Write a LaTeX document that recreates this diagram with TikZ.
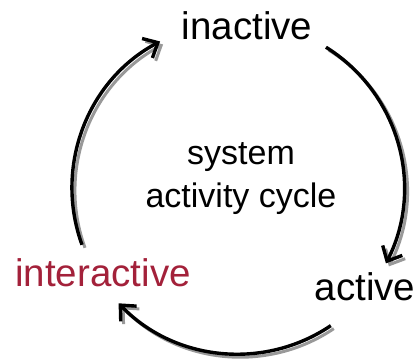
\documentclass[tikz,border=0pt]{standalone}
\usepackage{fontspec}
\setmainfont{Liberation Sans}
\usepackage{tikz}
\usetikzlibrary{arrows.meta,calc}

\definecolor{interred}{RGB}{163,33,58}

\begin{document}
\begin{tikzpicture}[x=1pt, y=1pt,
			statenode/.style={anchor=base, inner sep=0pt, font=\fontsize{38.5}{46}\selectfont},
			cyclenode/.style={anchor=base, inner sep=0pt, align=center, font=\fontsize{34}{43}\selectfont},
			cyclearc/.style={draw=black, line width=3.4pt, -{Straight Barb[length=12pt, width=22pt, line width=3.4pt]}},
			shadowarc/.style={draw=black!40, line width=3pt, -{Straight Barb[length=12pt, width=22pt, line width=3pt]}},
			]
			\useasboundingbox (0,0) rectangle (419,360);
			%Nodes
			\node[statenode] (inactive) at (247,321) {inactive};
			\node[statenode] (active) at (365,60) {active};
			\node[statenode, text=interred] (interactive) at (103,74) {interactive};
			\node[cyclenode] (cycle) at (241,153) {system\\activity cycle};

			%Points on the cycle
			\coordinate (centre) at (238,172);
			\coordinate (a1) at ($(centre)+(200:166)$);
			\coordinate (a2) at ($(centre)+(58:166)$);
			\coordinate (a3) at ($(centre)+(-56:166)$);

			%Arcs
			\draw[shadowarc] ([shift={(3,-3)}]a1) arc[start angle=200, end angle=118, radius=166pt];
			\draw[shadowarc] ([shift={(3,-3)}]a2) arc[start angle=58, end angle=-27, radius=166pt];
			\draw[shadowarc] ([shift={(3,-3)}]a3) arc[start angle=-56, end angle=-136, radius=166pt];
			\draw[cyclearc] (a1) arc[start angle=200, end angle=118, radius=166pt];
			\draw[cyclearc] (a2) arc[start angle=58, end angle=-27, radius=166pt];
			\draw[cyclearc] (a3) arc[start angle=-56, end angle=-136, radius=166pt];
		\end{tikzpicture}
\end{document}
